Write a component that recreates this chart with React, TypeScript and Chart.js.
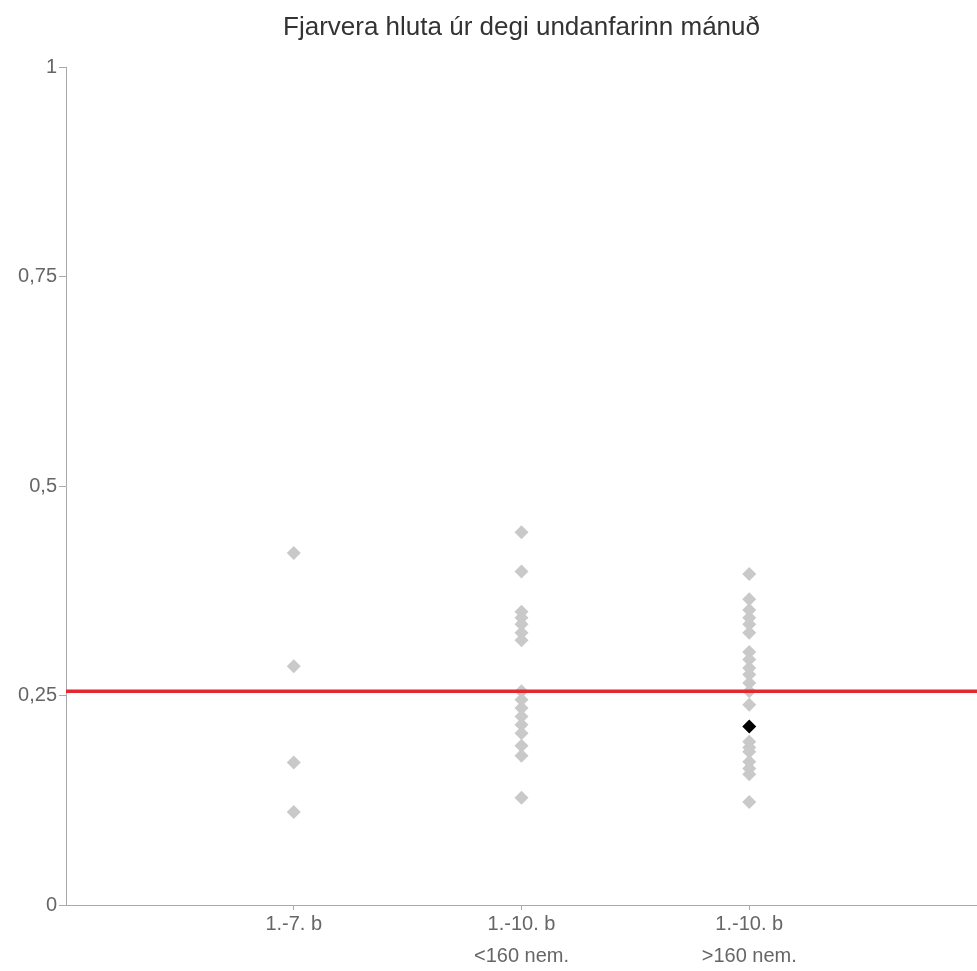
import React, { useEffect, useRef } from "react";
import { Chart, registerables } from "chart.js";

Chart.register(...registerables);

const TITLE = "Fjarvera hluta úr degi undanfarinn mánuð";
const CATEGORY_LABELS: string[][] = [
  ["1.-7. b"],
  ["1.-10. b", "<160 nem."],
  ["1.-10. b", ">160 nem."],
];
const CATEGORY_POS = [1, 2, 3];

const group1 = [0.42, 0.285, 0.17, 0.111];
const group2 = [0.445, 0.398, 0.35, 0.343, 0.335, 0.325, 0.316, 0.255, 0.245, 0.235, 0.225, 0.215, 0.205, 0.19, 0.178, 0.128];
const group3 = [0.395, 0.365, 0.352, 0.343, 0.335, 0.325, 0.302, 0.293, 0.283, 0.275, 0.265, 0.255, 0.239, 0.195, 0.188, 0.183, 0.171, 0.163, 0.156, 0.123];
const highlight = { group: 3, value: 0.213 };
const averageLine = 0.255;
const Y_TICKS = [0, 0.25, 0.5, 0.75, 1];

export default function App() {
  const ref = useRef<HTMLCanvasElement | null>(null);

  useEffect(() => {
    document.body.style.margin = "0";
    if (!ref.current) return;
    const grayPts = [
      ...group1.map((y) => ({ x: CATEGORY_POS[0], y })),
      ...group2.map((y) => ({ x: CATEGORY_POS[1], y })),
      ...group3.map((y) => ({ x: CATEGORY_POS[2], y })),
    ];
    const font = "'Liberation Sans', Arial, Helvetica, sans-serif";
    const chart = new Chart(ref.current, {
      type: "scatter",
      data: {
        datasets: [
          {
            type: "line",
            label: "avg",
            data: [
              { x: 0, y: averageLine },
              { x: 4, y: averageLine },
            ],
            borderColor: "#e3282e",
            borderWidth: 3.5,
            pointRadius: 0,
            order: 0,
          } as any,
          {
            label: "highlight",
            data: [{ x: highlight.group, y: highlight.value }],
            pointStyle: "rectRot",
            pointRadius: 7,
            backgroundColor: "#000",
            borderColor: "#000",
            borderWidth: 0,
            order: 1,
          },
          {
            label: "schools",
            data: grayPts,
            pointStyle: "rectRot",
            pointRadius: 7,
            backgroundColor: "#c9c9c9",
            borderColor: "#c9c9c9",
            borderWidth: 0,
            order: 2,
          },
        ],
      },
      options: {
        animation: false,
        responsive: true,
        maintainAspectRatio: false,
        layout: { autoPadding: false, padding: { left: 0, right: 0, top: 0, bottom: 0 } },
        plugins: {
          legend: { display: false },
          tooltip: { enabled: false },
          title: {
            display: true,
            fullSize: false,
            text: TITLE,
            color: "#333",
            font: { family: font, size: 26, weight: "normal" as any, lineHeight: 1.2 },
            padding: { top: 12, bottom: 24 },
          },
        },
        scales: {
          x: {
            type: "linear",
            min: 0,
            max: 4,
            afterBuildTicks: (s: any) => {
              s.ticks = CATEGORY_POS.map((v) => ({ value: v }));
            },
            afterFit: (s: any) => {
              s.height = 66;
            },
            grid: { display: true, drawOnChartArea: false, drawTicks: true, tickLength: 5, color: "#aaa" },
            border: { display: true, color: "#aaa", width: 1 },
            ticks: {
              color: "#666",
              font: { family: font, size: 20, lineHeight: 1.6 },
              padding: -2,
              maxRotation: 0,
              autoSkip: false,
              callback: (v: any) => {
                const i = CATEGORY_POS.indexOf(Number(v));
                return i >= 0 ? CATEGORY_LABELS[i] : "";
              },
            },
          },
          y: {
            type: "linear",
            min: 0,
            max: 1,
            afterBuildTicks: (s: any) => {
              s.ticks = Y_TICKS.map((v) => ({ value: v }));
            },
            afterFit: (s: any) => {
              s.width = 66;
            },
            grid: { display: true, drawOnChartArea: false, drawTicks: true, tickLength: 7, color: "#aaa" },
            border: { display: true, color: "#aaa", width: 1 },
            ticks: {
              color: "#666",
              font: { family: font, size: 20 },
              padding: 2,
              callback: (v: any) => String(v).replace(".", ","),
            },
          },
        },
      },
    });
    return () => chart.destroy();
  }, []);

  return (
    <div style={{ width: 977, height: 971, position: "relative" }}>
      <canvas ref={ref} />
    </div>
  );
}
